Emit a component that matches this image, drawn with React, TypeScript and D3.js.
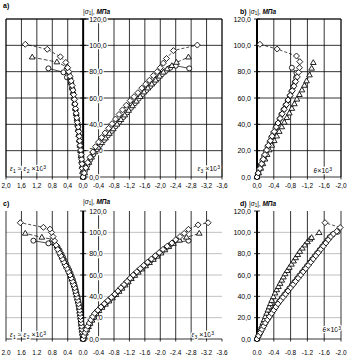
import React from 'react';
import * as d3 from 'd3';

type P = [number, number];

// ---------- tick values ----------
const xTicksWide = [2.0, 1.6, 1.2, 0.8, 0.4, 0.0, -0.4, -0.8, -1.2, -1.6, -2.0, -2.4, -2.8, -3.2, -3.6];
const xTicksNarrow = [0.0, -0.4, -0.8, -1.2, -1.6, -2.0];
const yTicks = [0, 20, 40, 60, 80, 100, 120];

// ---------- panel a : strains (ε, |σ1|) ----------
const aLeftDiamond: P[] = [[0,0],[0.01,3],[0.02,6.5],[0.03,10],[0.04,13.5],[0.05,17],[0.065,20.5],[0.08,24],[0.09,27.5],[0.1,31],[0.115,34.5],[0.13,38],[0.15,41.5],[0.165,45],[0.18,48.5],[0.195,52],[0.21,55.5],[0.225,59],[0.245,62.5],[0.265,66],[0.285,69.5],[0.31,73],[0.34,76.5],[0.37,80],[0.4,83],[0.45,87],[0.59,91.3],[0.93,97],[1.5,100.8]];
const aLeftTriangle: P[] = [[0,0],[0.012,4],[0.025,8],[0.04,12],[0.055,16],[0.07,20],[0.085,24],[0.1,28],[0.115,32],[0.13,36],[0.145,40],[0.16,44],[0.18,48],[0.2,52],[0.22,56],[0.24,60],[0.26,64],[0.28,68],[0.31,72],[0.34,76],[0.38,80],[0.42,83.5],[0.68,87.3],[1.32,91]];
const aLeftCircle: P[] = [[0,0],[0.008,3.5],[0.02,7.5],[0.035,11.5],[0.05,15.5],[0.065,19.5],[0.08,23.5],[0.095,27.5],[0.11,31.5],[0.125,35.5],[0.14,39.5],[0.16,43.5],[0.18,47.5],[0.2,51.5],[0.22,55.5],[0.24,59.5],[0.26,63.5],[0.29,67.5],[0.32,71.5],[0.42,75.7],[0.51,79.5],[0.9,82.5]];
const aRightDiamond: P[] = [[0,0],[-0.03,3],[-0.07,7],[-0.12,11],[-0.18,15],[-0.25,19],[-0.32,23],[-0.4,26.5],[-0.48,30],[-0.57,33.5],[-0.66,37],[-0.75,40.5],[-0.84,44],[-0.93,47.5],[-1.02,51],[-1.12,54.5],[-1.22,58],[-1.32,61],[-1.42,64],[-1.52,67.5],[-1.62,70.5],[-1.72,73.5],[-1.82,77],[-1.92,80],[-2.0,83],[-2.08,86.5],[-2.16,90],[-2.34,96],[-2.96,100.2]];
const aRightTriangle: P[] = [[0,0],[-0.04,3],[-0.09,7],[-0.15,11],[-0.22,15],[-0.3,19],[-0.39,22.5],[-0.48,26],[-0.58,29.5],[-0.68,33],[-0.78,36.5],[-0.88,40],[-0.98,43.5],[-1.08,47],[-1.18,50.5],[-1.28,54],[-1.38,57.5],[-1.48,61],[-1.58,64.5],[-1.68,67.5],[-1.78,70.5],[-1.88,73.5],[-1.98,76.5],[-2.08,79.5],[-2.18,82],[-2.3,84.5],[-2.42,87],[-2.73,91]];
const aRightCircle: P[] = [[0,0],[-0.05,5],[-0.11,9],[-0.18,13],[-0.26,17],[-0.35,21],[-0.44,24.5],[-0.54,28],[-0.64,31.5],[-0.74,35],[-0.84,38.5],[-0.94,42],[-1.04,45.5],[-1.14,49],[-1.24,52.5],[-1.34,56],[-1.44,59.5],[-1.54,63],[-1.64,66],[-1.74,69],[-1.84,72],[-1.94,75],[-2.04,78],[-2.14,80.5],[-2.26,83],[-2.4,84.5],[-2.75,82.5]];

// ---------- panel b : θ ----------
const bDiamond: P[] = [[0,0],[-0.03,3],[-0.07,6.5],[-0.11,10],[-0.15,13.5],[-0.19,17],[-0.23,20.5],[-0.27,24],[-0.32,27.5],[-0.36,31],[-0.41,34.5],[-0.46,38],[-0.5,41],[-0.55,44.5],[-0.6,48],[-0.65,51.5],[-0.7,55],[-0.74,58.5],[-0.79,62],[-0.84,65.5],[-0.88,69],[-0.92,72.5],[-0.96,76],[-0.99,79.5],[-1.01,83],[-1.02,87.6],[-0.94,91.9],[-0.48,97.2],[-0.07,100.8]];
const bCircle: P[] = [[0,0],[-0.02,2.5],[-0.05,5.5],[-0.09,9],[-0.13,12.5],[-0.17,16],[-0.21,19.5],[-0.25,23],[-0.3,26.5],[-0.34,30],[-0.39,33.5],[-0.44,37],[-0.49,40.5],[-0.54,44],[-0.58,47.5],[-0.63,51],[-0.68,54.5],[-0.73,58],[-0.78,61.5],[-0.82,65],[-0.86,68.5],[-0.9,72],[-0.93,75.5],[-0.94,79],[-0.83,83]];
const bTriangle: P[] = [[0,0],[-0.04,3],[-0.09,6.5],[-0.14,10],[-0.19,13.5],[-0.24,17],[-0.29,20.5],[-0.35,24],[-0.41,27.5],[-0.47,31],[-0.53,34.5],[-0.59,38],[-0.65,41.5],[-0.71,45],[-0.77,48.5],[-0.83,52],[-0.89,55.5],[-0.95,59],[-1.01,62.5],[-1.07,66],[-1.13,69.5],[-1.18,72.9],[-1.25,77.4],[-1.3,82.5],[-1.34,86.8]];

// ---------- panel c : strains ----------
const cLeftDiamond: P[] = [[0,0],[0.01,3],[0.02,6],[0.03,9],[0.04,12],[0.05,15],[0.06,18],[0.07,21],[0.08,24],[0.09,27],[0.1,30],[0.12,33],[0.14,36],[0.16,39],[0.18,42],[0.2,45],[0.22,48],[0.25,51],[0.28,54],[0.31,57],[0.34,60],[0.38,63],[0.42,66],[0.46,69],[0.5,72],[0.54,75],[0.58,78],[0.62,81],[0.66,84],[0.7,88],[0.74,92],[0.78,96],[0.82,100],[0.86,103],[1.03,104.7],[1.63,109]];
const cLeftTriangle: P[] = [[0,0],[0.008,2.5],[0.018,5.5],[0.028,8.5],[0.038,11.5],[0.048,14.5],[0.058,17.5],[0.068,20.5],[0.078,23.5],[0.088,26.5],[0.1,29.5],[0.115,32.5],[0.13,35.5],[0.15,38.5],[0.17,41.5],[0.19,44.5],[0.21,47.5],[0.235,50.5],[0.26,53.5],[0.29,56.5],[0.32,59.5],[0.355,62.5],[0.39,65.5],[0.43,68.5],[0.47,71.5],[0.51,74.5],[0.55,77.5],[0.59,80.5],[0.63,83.5],[0.68,87],[0.74,90.5],[0.8,93.5],[1.07,95.3],[1.5,99]];
const cLeftCircle: P[] = [[0,0],[0.005,1.5],[0.013,4.5],[0.023,7.5],[0.033,10.5],[0.043,13.5],[0.053,16.5],[0.063,19.5],[0.073,22.5],[0.083,25.5],[0.095,28.5],[0.108,31.5],[0.122,34.5],[0.138,37.5],[0.155,40.5],[0.175,43.5],[0.195,46.5],[0.215,49.5],[0.24,52.5],[0.265,55.5],[0.295,58.5],[0.325,61.5],[0.36,64.5],[0.4,67.5],[0.44,70.5],[0.48,73.5],[0.52,76.5],[0.56,79.5],[0.61,83],[0.66,86],[0.9,89.7],[1.29,92.2]];
const cRightDiamond: P[] = [[0,0],[-0.02,3],[-0.05,6],[-0.08,9],[-0.12,12],[-0.16,15],[-0.2,18],[-0.25,21],[-0.3,24],[-0.38,27],[-0.46,30],[-0.55,33],[-0.64,36],[-0.73,39],[-0.82,42],[-0.9,45],[-0.98,48],[-1.06,51],[-1.14,54],[-1.22,57],[-1.3,60],[-1.39,63],[-1.48,66],[-1.57,69],[-1.67,72],[-1.77,75],[-1.87,78],[-1.97,81],[-2.07,84],[-2.18,87],[-2.3,90],[-2.4,93],[-2.51,96],[-2.62,99],[-2.73,102.8],[-2.98,107],[-3.24,109]];
const cRightTriangle: P[] = [[0,0],[-0.03,2.5],[-0.06,5.5],[-0.1,8.5],[-0.14,11.5],[-0.18,14.5],[-0.23,17.5],[-0.28,20.5],[-0.34,23.5],[-0.41,26.5],[-0.49,29.5],[-0.58,32.5],[-0.67,35.5],[-0.76,38.5],[-0.85,41.5],[-0.93,44.5],[-1.01,47.5],[-1.09,50.5],[-1.17,53.5],[-1.25,56.5],[-1.34,59.5],[-1.43,62.5],[-1.52,65.5],[-1.62,68.5],[-1.72,71.5],[-1.82,74.5],[-1.92,77.5],[-2.02,80.5],[-2.12,83.5],[-2.22,86.5],[-2.34,89.5],[-2.5,92.5],[-2.68,95.3],[-3.01,99]];
const cRightCircle: P[] = [[0,0],[-0.01,1.5],[-0.04,4.5],[-0.07,7.5],[-0.11,10.5],[-0.15,13.5],[-0.19,16.5],[-0.24,19.5],[-0.29,22.5],[-0.35,25.5],[-0.43,28.5],[-0.52,31.5],[-0.61,34.5],[-0.7,37.5],[-0.79,40.5],[-0.87,43.5],[-0.95,46.5],[-1.03,49.5],[-1.11,52.5],[-1.19,55.5],[-1.27,58.5],[-1.36,61.5],[-1.45,64.5],[-1.55,67.5],[-1.65,70.5],[-1.75,73.5],[-1.85,76.5],[-1.95,79.5],[-2.05,82.5],[-2.15,85.5],[-2.25,88],[-2.34,90.3],[-2.73,92.2]];

// ---------- panel d : θ ----------
const dDiamond: P[] = [[0,0],[-0.04,3],[-0.08,6],[-0.12,9],[-0.16,12],[-0.2,15],[-0.25,18],[-0.3,21],[-0.35,24],[-0.4,27],[-0.45,30],[-0.5,33],[-0.56,36],[-0.62,39],[-0.68,42],[-0.74,45],[-0.8,48],[-0.86,51],[-0.92,54],[-0.98,57],[-1.04,60],[-1.1,63],[-1.16,66],[-1.22,69],[-1.28,72],[-1.34,75],[-1.4,78],[-1.46,81],[-1.52,84],[-1.58,87],[-1.64,90],[-1.7,93],[-1.76,96],[-1.82,98.5],[-1.9,101],[-1.98,104.5],[-1.62,109]];
const dCircle: P[] = [[0,0],[-0.03,2.5],[-0.07,5.5],[-0.11,8.5],[-0.15,11.5],[-0.19,14.5],[-0.23,17.5],[-0.28,20.5],[-0.33,23.5],[-0.38,26.5],[-0.43,29.5],[-0.48,32.5],[-0.53,35.5],[-0.59,38.5],[-0.65,41.5],[-0.71,44.5],[-0.77,47.5],[-0.83,50.5],[-0.89,53.5],[-0.95,56.5],[-1.01,59.5],[-1.07,62.5],[-1.13,65.5],[-1.19,68.5],[-1.25,71.5],[-1.31,74.5],[-1.37,77.5],[-1.43,80.5],[-1.49,83.5],[-1.55,86.5],[-1.61,89.5],[-1.67,92.5],[-1.73,95.5],[-1.8,98],[-1.92,100.5]];
const dTriangle: P[] = [[0,0],[-0.02,3],[-0.05,6],[-0.08,9],[-0.11,12],[-0.14,15],[-0.17,18],[-0.2,21],[-0.23,24],[-0.26,27],[-0.29,30],[-0.32,33],[-0.35,36],[-0.39,39.5],[-0.43,43],[-0.47,46],[-0.51,49],[-0.55,52],[-0.59,55],[-0.63,58],[-0.67,61],[-0.72,64],[-0.77,67],[-0.82,70],[-0.87,73],[-0.92,76],[-0.97,79],[-1.02,82],[-1.08,85],[-1.14,88],[-1.2,91],[-1.26,93.5],[-1.3,95],[-1.48,99.6]];

type Shape = 'diamond' | 'triangle' | 'circle';
interface Series { data: P[]; shape: Shape }
interface PanelCfg {
  letter: string; letterX: number; letterY: number;
  titleX: number; titleY: number;
  xDomain: [number, number]; xRange: [number, number];
  yRange: [number, number];
  xTicks: number[];
  wide: boolean;
  frame: boolean;
  series: Series[];
  xLabelY: number;
  axisLabels: { x: number; y: number; anchor: string; kind: 'e12' | 'e3' | 'th' }[];
}

const FONT = "'Liberation Sans', Arial, sans-serif";
const fmt = (v: number) => (Math.abs(v) < 1e-9 ? '0,0' : v.toFixed(1).replace('.', ','));

const shapePath = (s: Shape, r: number) => {
  if (s === 'diamond') return `M0,${-r}L${r},0L0,${r}L${-r},0Z`;
  if (s === 'triangle') return `M0,${-r}L${r * 0.95},${r * 0.6}L${-r * 0.95},${r * 0.6}Z`;
  return d3.symbol().type(d3.symbolCircle).size(Math.PI * r * r)() as string;
};

const dashFor: Record<Shape, string | undefined> = { diamond: '3,2', triangle: '4,2', circle: undefined };
const sizeFor: Record<Shape, number> = { diamond: 3, triangle: 3, circle: 2.5 };

const AxisLabel: React.FC<{ x: number; y: number; anchor: string; kind: 'e12' | 'e3' | 'th' }> = ({ x, y, anchor, kind }) => {
  const sub = { fontSize: 5 } as const;
  const common = { x, y, textAnchor: anchor as any, fontSize: 7, fontFamily: FONT, fill: '#000', stroke: '#fff', strokeWidth: 2.5, paintOrder: 'stroke' as any };
  if (kind === 'e12')
    return (
      <text {...common}>
        <tspan fontStyle="italic">ε</tspan><tspan {...sub} dy={1.5}>1</tspan>
        <tspan dy={-1.5}> ≈ </tspan><tspan fontStyle="italic">ε</tspan><tspan {...sub} dy={1.5}>2</tspan>
        <tspan dy={-1.5}> ×10</tspan><tspan {...sub} dy={-2.5}>3</tspan>
      </text>
    );
  if (kind === 'e3')
    return (
      <text {...common}>
        <tspan fontStyle="italic">ε</tspan><tspan {...sub} dy={1.5}>3</tspan>
        <tspan dy={-1.5}> ×10</tspan><tspan {...sub} dy={-2.5}>3</tspan>
      </text>
    );
  return (
    <text {...common}>
      <tspan fontStyle="italic">θ</tspan><tspan>×10</tspan><tspan {...sub} dy={-2.5}>3</tspan>
    </text>
  );
};

const Panel: React.FC<{ cfg: PanelCfg }> = ({ cfg }) => {
  const x = d3.scaleLinear().domain(cfg.xDomain).range(cfg.xRange);
  const y = d3.scaleLinear().domain([0, 120]).range(cfg.yRange);
  const x0 = x(0);
  const [xl, xr] = cfg.xRange;
  const yb = y(0), yt = y(120);
  const line = d3.line<P>().x(d => x(d[0])).y(d => y(d[1]));
  const hColor = cfg.frame ? '#000' : '#b0b0b0';
  const vTicks = cfg.xTicks.filter(t => t !== 0 && (cfg.frame || Math.abs(t - cfg.xDomain[1]) > 1e-9 || !cfg.wide));
  return (
    <g>
      {yTicks.filter(t => t > 0 && (cfg.frame || t < 120)).map(t => (
        <line key={'h' + t} x1={xl} x2={xr} y1={y(t)} y2={y(t)} stroke={hColor} strokeWidth={0.8} />
      ))}
      {vTicks.map(t => (
        <line key={'v' + t} x1={x(t)} x2={x(t)} y1={yt} y2={yb} stroke="#000" strokeWidth={0.8} />
      ))}
      <line x1={xl} x2={xr} y1={yb} y2={yb} stroke="#000" strokeWidth={0.8} />
      {cfg.xTicks.map(t => (
        <line key={'t' + t} x1={x(t)} x2={x(t)} y1={yb} y2={yb + 2.5} stroke="#000" strokeWidth={0.8} />
      ))}
      {cfg.frame && (
        <>
          <line x1={xl} x2={xr} y1={yt} y2={yt} stroke="#000" strokeWidth={0.8} />
          <line x1={xr} x2={xr} y1={yt} y2={yb} stroke="#000" strokeWidth={0.8} />
          <line x1={xl} x2={xl} y1={yt} y2={yb} stroke="#000" strokeWidth={0.8} />
        </>
      )}
      <line x1={x0} x2={x0} y1={yt} y2={yb + 2.5} stroke="#000" strokeWidth={2} />
      {yTicks.map(t => (
        <line key={'yt' + t} x1={x0 - 3} x2={x0 + 3} y1={y(t)} y2={y(t)} stroke="#000" strokeWidth={0.8} />
      ))}
      {yTicks.map(t => (
        <text key={'yl' + t} x={cfg.wide ? x0 + 6 : x0 - 6} y={y(t) + 2.5}
          textAnchor={cfg.wide ? 'start' : 'end'} fontSize={7} fontFamily={FONT} fill="#000"
          stroke={cfg.wide ? '#fff' : 'none'} strokeWidth={2.5} style={{ paintOrder: 'stroke' } as any}>
          {fmt(t)}
        </text>
      ))}
      {cfg.xTicks.map(t => (
        <text key={'xl' + t} x={x(t)} y={cfg.xLabelY} textAnchor="middle" fontSize={6.5} fontFamily={FONT} fill="#000">
          {fmt(t)}
        </text>
      ))}
      {cfg.series.map((s, i) => (
        <path key={'l' + i} d={line(s.data) || ''} fill="none" stroke="#000" strokeWidth={0.7}
          strokeDasharray={dashFor[s.shape]} />
      ))}
      {cfg.series.map((s, i) => (
        <g key={'m' + i}>
          {s.data.map((d, j) => (
            <path key={j} d={shapePath(s.shape, sizeFor[s.shape])} transform={`translate(${x(d[0])},${y(d[1])})`}
              fill="#fff" stroke="#000" strokeWidth={0.85} />
          ))}
        </g>
      ))}
      {cfg.axisLabels.map((a, i) => <AxisLabel key={i} {...a} />)}
      <text x={cfg.letterX} y={cfg.letterY} fontSize={7} fontWeight="bold" fontFamily={FONT} fill="#000">{cfg.letter}</text>
      <text x={cfg.titleX} y={cfg.titleY} fontSize={6.5} fontFamily={FONT} fill="#000">
        <tspan>|</tspan><tspan fontStyle="italic">σ</tspan><tspan fontSize={4.5} dy={1}>1</tspan>
        <tspan dy={-1}>|, </tspan><tspan fontStyle="italic" fontWeight="bold">МПа</tspan>
      </text>
    </g>
  );
};

const panels: PanelCfg[] = [
  {
    letter: 'a)', letterX: 3, letterY: 8, titleX: 83, titleY: 13.5,
    xDomain: [2.0, -3.6], xRange: [6, 222], yRange: [177, 19], xTicks: xTicksWide, wide: true, frame: true,
    series: [
      { data: aLeftCircle, shape: 'circle' }, { data: aLeftTriangle, shape: 'triangle' }, { data: aLeftDiamond, shape: 'diamond' },
      { data: aRightCircle, shape: 'circle' }, { data: aRightTriangle, shape: 'triangle' }, { data: aRightDiamond, shape: 'diamond' },
    ],
    xLabelY: 187.5,
    axisLabels: [{ x: 10, y: 171, anchor: 'start', kind: 'e12' }, { x: 220, y: 171, anchor: 'end', kind: 'e3' }],
  },
  {
    letter: 'b)', letterX: 240, letterY: 14, titleX: 249, titleY: 13.5,
    xDomain: [0, -2.0], xRange: [257, 341], yRange: [177, 19], xTicks: xTicksNarrow, wide: false, frame: true,
    series: [{ data: bCircle, shape: 'circle' }, { data: bTriangle, shape: 'triangle' }, { data: bDiamond, shape: 'diamond' }],
    xLabelY: 187.5,
    axisLabels: [{ x: 332, y: 173, anchor: 'end', kind: 'th' }],
  },
  {
    letter: 'c)', letterX: 3, letterY: 206, titleX: 83, titleY: 203.5,
    xDomain: [2.0, -3.6], xRange: [6, 222], yRange: [339, 211], xTicks: xTicksWide, wide: true, frame: false,
    series: [
      { data: cLeftCircle, shape: 'circle' }, { data: cLeftTriangle, shape: 'triangle' }, { data: cLeftDiamond, shape: 'diamond' },
      { data: cRightCircle, shape: 'circle' }, { data: cRightTriangle, shape: 'triangle' }, { data: cRightDiamond, shape: 'diamond' },
    ],
    xLabelY: 354.5,
    axisLabels: [{ x: 10, y: 337, anchor: 'start', kind: 'e12' }, { x: 214, y: 337, anchor: 'end', kind: 'e3' }],
  },
  {
    letter: 'd)', letterX: 240, letterY: 206, titleX: 249, titleY: 205.5,
    xDomain: [0, -2.0], xRange: [257, 341], yRange: [339, 211], xTicks: xTicksNarrow, wide: false, frame: false,
    series: [{ data: dCircle, shape: 'circle' }, { data: dTriangle, shape: 'triangle' }, { data: dDiamond, shape: 'diamond' }],
    xLabelY: 354.5,
    axisLabels: [{ x: 341, y: 332, anchor: 'end', kind: 'th' }],
  },
];

export default function App() {
  return (
    <svg width={351} height={355} viewBox="0 0 351 355"
      style={{ position: 'absolute', left: 0, top: 0, background: '#fff', display: 'block' }}>
      <rect width={351} height={355} fill="#fff" />
      {panels.map(p => <Panel key={p.letter} cfg={p} />)}
    </svg>
  );
}
